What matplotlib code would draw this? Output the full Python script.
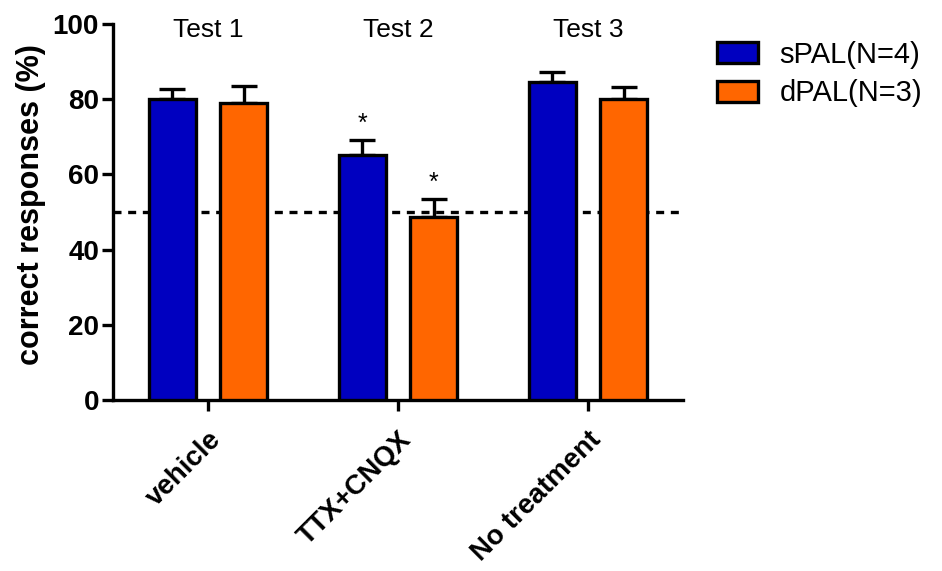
import matplotlib
matplotlib.use("Agg")
import matplotlib.pyplot as plt
import matplotlib.transforms as mtransforms
import numpy as np

plt.rcParams["font.family"] = ["Liberation Sans", "DejaVu Sans"]

# group labels and per-group results
conditions = ["vehicle", "TTX+CNQX", "No treatment"]
test_names = ["Test 1", "Test 2", "Test 3"]
spal_mean = [80.0, 65.2, 84.5]
spal_sem = [2.8, 3.9, 2.8]
dpal_mean = [79.0, 48.7, 80.0]
dpal_sem = [4.5, 4.7, 3.3]
significant_spal = [False, True, False]
significant_dpal = [False, True, False]
chance_level = 50

BLUE = "#0000c0"
ORANGE = "#ff6600"

fig = plt.figure(figsize=(9.42, 5.71), dpi=100)
ax = fig.add_axes([113 / 942, 171 / 571, 570 / 942, 376 / 571])

x = np.arange(len(conditions))
width = 0.247
offset = 0.187

ax.axhline(chance_level, color="black", lw=2.4, ls=(0, (2.4, 2)), zorder=1)

for xs, means, sems, color, label in [
    (x - offset, spal_mean, spal_sem, BLUE, "sPAL(N=4)"),
    (x + offset, dpal_mean, dpal_sem, ORANGE, "dPAL(N=3)"),
]:
    ax.bar(xs, means, width, color=color, edgecolor="black", lw=2.4,
           label=label, zorder=3)
    ax.errorbar(xs, means, yerr=[np.zeros(len(sems)), sems], fmt="none",
                ecolor="black", elinewidth=2.4, capsize=9.5, capthick=2.4,
                zorder=2)

for i in range(len(conditions)):
    if significant_spal[i]:
        ax.text(x[i] - offset, spal_mean[i] + spal_sem[i] + 1.2, "*",
                ha="center", va="bottom", fontsize=18)
    if significant_dpal[i]:
        ax.text(x[i] + offset, dpal_mean[i] + dpal_sem[i] + 1.2, "*",
                ha="center", va="bottom", fontsize=18)

for xi, name in zip(x, test_names):
    ax.text(xi, 98.3, name, ha="center", va="center", fontsize=19)

ax.set_xlim(-0.5, 2.5)
ax.set_ylim(0, 100)
ax.set_yticks([0, 20, 40, 60, 80, 100])
ax.set_xticks(x)
ax.set_xticklabels(conditions, rotation=45, ha="right",
                   rotation_mode="anchor", fontsize=20, fontweight="bold")
# nudge the slanted labels a little to the left of their ticks
shift = mtransforms.ScaledTranslation(-6 / 72, 0, fig.dpi_scale_trans)
for lbl in ax.get_xticklabels():
    lbl.set_transform(lbl.get_transform() + shift)
for lbl in ax.get_yticklabels():
    lbl.set_fontsize(20)
    lbl.set_fontweight("bold")
ax.set_ylabel("correct responses (%)", fontsize=22, fontweight="bold")
ax.yaxis.set_label_coords(-0.118, 0.52)

for side in ("top", "right"):
    ax.spines[side].set_visible(False)
for side in ("left", "bottom"):
    ax.spines[side].set_linewidth(2.4)
ax.tick_params(axis="y", width=2.4, length=8, direction="out", pad=2)
ax.tick_params(axis="x", width=2.4, length=8, direction="out", pad=11)

fig.legend(loc="upper left", bbox_to_anchor=(705 / 942, 1 - 29 / 571),
           frameon=False, fontsize=21, handlelength=1.4, handleheight=0.76,
           labelspacing=0.37, handletextpad=0.75, borderaxespad=0)

fig.savefig("out.png", dpi=100, facecolor="white")
